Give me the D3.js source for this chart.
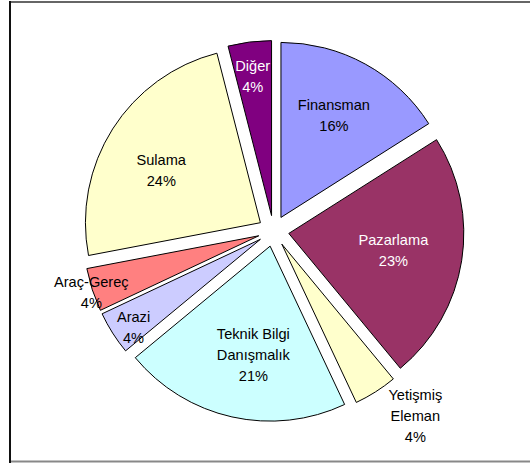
<!DOCTYPE html>
<html>
<head>
<meta charset="utf-8">
<script src="https://cdn.jsdelivr.net/npm/d3@7"></script>
<style>
  html, body { margin: 0; padding: 0; background: #fff; }
  svg { display: block; }
</style>
</head>
<body>
<svg id="chart" width="530" height="463"></svg>
<script>
// ---- data ----
const categories = ["Finansman", "Pazarlama", "Yetişmiş Eleman", "Teknik Bilgi Danışmalık", "Arazi", "Araç-Gereç", "Sulama", "Diğer"];
const labelLines = [["Finansman"], ["Pazarlama"], ["Yetişmiş", "Eleman"], ["Teknik Bilgi", "Danışmalık"], ["Arazi"], ["Araç-Gereç"], ["Sulama"], ["Diğer"]];
const values = [16, 23, 4, 21, 4, 4, 24, 4];
const colors = ["#9999FF", "#993366", "#FFFFCC", "#CCFFFF", "#CCCCFF", "#FF8080", "#FFFFCC", "#800080"];
const textColors = ["#000", "#fff", "#000", "#000", "#000", "#000", "#000", "#fff"];

// ---- layout ----
const W = 530, H = 463;
const cx = 273.5, cy = 231, R = 175, explode = 15.5;
// label placement: radius fraction and angular nudge (degrees) per slice
const labelFrac = [0.657, 0.605, 1.245, 0.626, 0.883, 1.009, 0.64, 0.804];
const labelNudge = [-1.4, 0, -5.4, -3.8, -2.4, -0.5, -4.7, -0.5];
const fontSize = 14.6, lineH = 21;

const svg = d3.select("#chart");

// frame
svg.append("line").attr("x1", 10).attr("x2", W).attr("y1", 2).attr("y2", 2)
  .attr("stroke", "#666").attr("stroke-width", 2);
svg.append("line").attr("x1", 10).attr("x2", W).attr("y1", 461.5).attr("y2", 461.5)
  .attr("stroke", "#888").attr("stroke-width", 2);
svg.append("line").attr("x1", 10).attr("x2", 10).attr("y1", 1).attr("y2", H)
  .attr("stroke", "#111").attr("stroke-width", 2);

const pie = d3.pie().sort(null).value(d => d);
const arcs = pie(values);
const arc = d3.arc().innerRadius(0).outerRadius(R);

const g = svg.append("g").attr("transform", `translate(${cx},${cy})`);

arcs.forEach((a, i) => {
  const mid = (a.startAngle + a.endAngle) / 2;
  const ox = explode * Math.sin(mid), oy = -explode * Math.cos(mid);
  const sg = g.append("g").attr("transform", `translate(${ox},${oy})`);
  sg.append("path")
    .attr("d", arc(a))
    .attr("fill", colors[i])
    .attr("stroke", "#000")
    .attr("stroke-width", 1)
    .attr("stroke-linejoin", "miter");

  const ang = mid + labelNudge[i] * Math.PI / 180;
  const lr = labelFrac[i] * R;
  const lx = lr * Math.sin(ang), ly = -lr * Math.cos(ang);
  const lines = labelLines[i].concat([values[i] + "%"]);
  const n = lines.length;
  const t = sg.append("text")
    .attr("text-anchor", "middle")
    .attr("font-family", "'Liberation Sans', Arial, sans-serif")
    .attr("font-size", fontSize)
    .attr("fill", textColors[i]);
  lines.forEach((ln, k) => {
    t.append("tspan")
      .attr("x", lx)
      .attr("y", ly + (k - (n - 1) / 2) * lineH + fontSize * 0.36)
      .text(ln);
  });
});
</script>
</body>
</html>
